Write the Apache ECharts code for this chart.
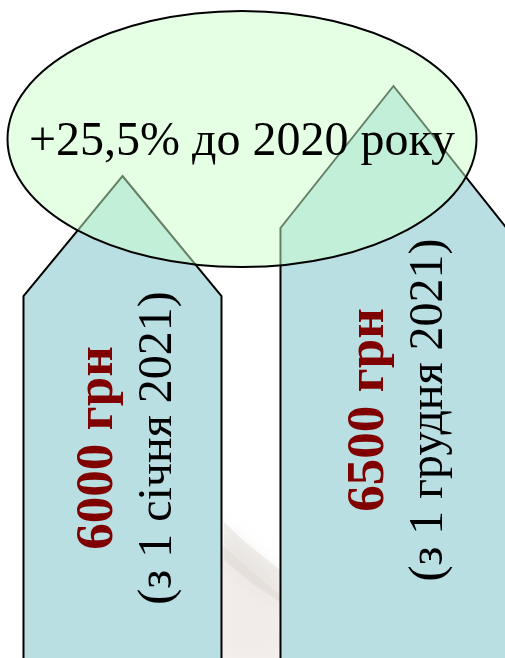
<!DOCTYPE html>
<html>
<head>
<meta charset="utf-8">
<script src="https://cdn.jsdelivr.net/npm/echarts@6/dist/echarts.min.js"></script>
<style>
  html, body { margin: 0; padding: 0; background: #ffffff; }
  #chart { width: 505px; height: 658px; }
</style>
</head>
<body>
<div id="chart"></div>
<script>
// ---- data ----
const categories = ['з 1 січня 2021', 'з 1 грудня 2021'];
const salaryValues = [6000, 6500];
const valueLabels = ['6000 грн', '6500 грн'];
const dateLabels = ['(з 1 січня 2021)', '(з 1 грудня 2021)'];
const growthLabel = '+25,5% до 2020 року';

// ---- layout constants ----
const SERIF = "'Liberation Serif', 'Times New Roman', serif";
const arrowHalfWidth = [99, 113];
const arrowHeadDrop = [120, 142];
const labelOffset = [272, 324];

const chart = echarts.init(document.getElementById('chart'), null, { renderer: 'canvas' });

const option = {
  backgroundColor: '#ffffff',
  animation: false,
  grid: { left: 0, right: 0, top: 5, height: 351 },
  xAxis: { type: 'value', min: -0.452, max: 1.4115, show: false },
  yAxis: { type: 'value', min: 5000, max: 6950, show: false },
  graphic: [
    {
      type: 'polygon',
      z: 0,
      shape: { points: [[222, 545], [250, 570], [280, 595], [280, 658], [222, 658]] },
      style: {
        fill: 'rgba(236,228,226,0.55)',
        shadowBlur: 18,
        shadowColor: 'rgba(236,228,226,0.8)'
      }
    },
    {
      type: 'polygon',
      z: 1,
      shape: { points: [[224, 522], [245, 542], [280, 570], [280, 602], [250, 582], [224, 560]] },
      style: {
        fill: 'rgba(214,209,200,0.35)',
        shadowBlur: 16,
        shadowColor: 'rgba(214,209,200,0.6)'
      }
    },
    {
      type: 'ellipse',
      z: 50,
      shape: { cx: 242, cy: 139, rx: 234.5, ry: 128 },
      style: { fill: 'rgba(204,255,204,0.5)', stroke: '#000000', lineWidth: 2 }
    },
    {
      type: 'text',
      z: 60,
      x: 242,
      y: 142,
      style: {
        text: growthLabel,
        fill: '#000000',
        font: '48px ' + SERIF,
        align: 'center',
        verticalAlign: 'middle'
      }
    }
  ],
  series: [
    {
      type: 'custom',
      z: 2,
      clip: false,
      data: salaryValues.map((v, i) => [i, v, categories[i]]),
      renderItem: function (params, api) {
        const i = params.dataIndex;
        const tip = api.coord([api.value(0), api.value(1)]);
        const hw = arrowHalfWidth[i];
        const drop = arrowHeadDrop[i];
        const bottom = api.getHeight() + 10;
        const cx = tip[0];
        const cy = tip[1] + labelOffset[i];
        return {
          type: 'group',
          children: [
            {
              type: 'polygon',
              shape: {
                points: [
                  [cx, tip[1]],
                  [cx + hw, tip[1] + drop],
                  [cx + hw, bottom],
                  [cx - hw, bottom],
                  [cx - hw, tip[1] + drop]
                ]
              },
              style: { fill: '#b9dfe3', stroke: '#000000', lineWidth: 2 }
            },
            {
              type: 'text',
              x: cx - 24,
              y: cy,
              rotation: Math.PI / 2,
              style: {
                text: valueLabels[i],
                fill: '#800000',
                font: 'bold 53px ' + SERIF,
                align: 'center',
                verticalAlign: 'middle'
              }
            },
            {
              type: 'text',
              x: cx + 35.5,
              y: cy,
              rotation: Math.PI / 2,
              style: {
                text: dateLabels[i],
                fill: '#000000',
                font: '48px ' + SERIF,
                align: 'center',
                verticalAlign: 'middle'
              }
            }
          ]
        };
      }
    }
  ]
};

chart.setOption(option);
</script>
</body>
</html>
